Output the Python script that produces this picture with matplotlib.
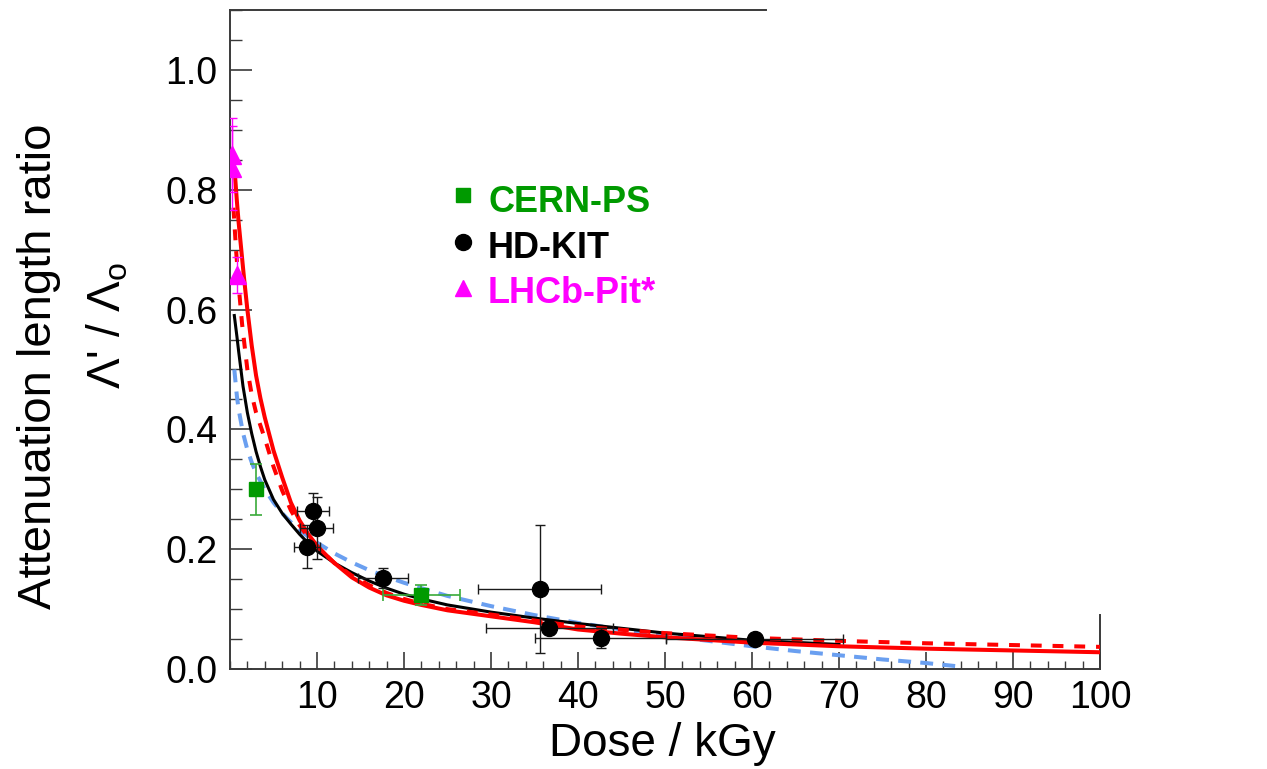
import matplotlib
matplotlib.use("Agg")
import matplotlib.pyplot as plt
from matplotlib.ticker import MultipleLocator, FixedLocator, FormatStrFormatter

plt.rcParams['font.family'] = ['Liberation Sans', 'DejaVu Sans']
plt.rcParams['mathtext.fontset'] = 'custom'
plt.rcParams['mathtext.rm'] = 'Liberation Sans'
plt.rcParams['mathtext.it'] = 'Liberation Sans:italic'
plt.rcParams['mathtext.bf'] = 'Liberation Sans:bold'

# ---- measured attenuation-length ratios ----
cern_dose = [3.0, 22.0]
cern_ratio = [0.300, 0.1235]
cern_dose_err = [0.0, 4.4]
cern_ratio_err = [0.043, 0.017]

kit_dose = [8.9, 9.5, 10.0, 17.6, 35.6, 36.7, 42.6, 60.3]
kit_ratio = [0.204, 0.263, 0.235, 0.152, 0.134, 0.069, 0.052, 0.050]
kit_dose_err = [1.5, 1.85, 1.9, 2.9, 7.1, 7.3, 7.5, 10.2]
kit_ratio_err = [0.036, 0.030, 0.052, 0.017, 0.107, 0.010, 0.017, 0.008]

pit_dose = [0.27, 0.27, 0.77]
pit_ratio = [0.858, 0.836, 0.658]
pit_ratio_err = [0.061, 0.070, 0.030]

# ---- fitted curves ----
fit_red_x = [0.55, 0.8, 1.0, 1.3, 1.6, 2.0, 2.5, 3.0, 3.5, 4.0, 5.0, 6.0, 7.0,
             8.0, 9.0, 10, 11, 12, 14, 16, 18, 20, 22, 25, 30, 35, 40, 45, 50,
             60, 70, 80, 90, 100]
fit_red_y = [0.830, 0.780, 0.745, 0.700, 0.655, 0.600, 0.540, 0.490, 0.452,
             0.420, 0.365, 0.320, 0.278, 0.248, 0.225, 0.206, 0.191, 0.177,
             0.153, 0.136, 0.123, 0.114, 0.107, 0.098, 0.088, 0.078, 0.066,
             0.059, 0.053, 0.044, 0.038, 0.034, 0.031, 0.028]

fit_red_dash_x = [0.4, 0.7, 1.0, 1.4, 2.0, 2.5, 3.0, 4.0, 5.0, 6.0, 7.0, 8.0,
                  9.0, 10, 12, 14, 16, 18, 20, 22, 25, 30, 35, 40, 50, 60, 70,
                  80, 90, 100]
fit_red_dash_y = [0.770, 0.700, 0.640, 0.575, 0.500, 0.458, 0.428, 0.385,
                  0.338, 0.298, 0.265, 0.240, 0.220, 0.204, 0.177, 0.156,
                  0.140, 0.127, 0.117, 0.109, 0.100, 0.091, 0.081, 0.071,
                  0.060, 0.052, 0.047, 0.043, 0.040, 0.037]

fit_black_x = [0.5, 0.8, 1.0, 1.5, 2.0, 2.5, 3.0, 3.5, 4.0, 5.0, 6.0, 7.0,
               8.0, 9.0, 10, 12, 14, 16, 18, 20, 22, 25, 30, 35, 40, 50, 60, 70]
fit_black_y = [0.590, 0.555, 0.530, 0.472, 0.428, 0.393, 0.363, 0.338, 0.316,
               0.283, 0.260, 0.242, 0.225, 0.210, 0.197, 0.177, 0.161, 0.147,
               0.135, 0.125, 0.117, 0.107, 0.095, 0.085, 0.076, 0.060, 0.048,
               0.041]

fit_blue_x = [0.5, 0.8, 1.0, 1.5, 2.0, 2.5, 3.0, 4.0, 5.0, 6.0, 7.0, 8.0, 9.0,
              10, 12, 14, 16, 18, 20, 22, 25, 30, 35, 40, 45, 50, 55, 60, 65,
              70, 75, 80, 84]
fit_blue_y = [0.500, 0.455, 0.433, 0.394, 0.366, 0.345, 0.327, 0.300, 0.278,
              0.260, 0.245, 0.232, 0.221, 0.211, 0.193, 0.178, 0.165, 0.154,
              0.144, 0.135, 0.122, 0.105, 0.090, 0.077, 0.066, 0.056, 0.047,
              0.038, 0.030, 0.023, 0.016, 0.010, 0.004]

x_major = [10, 20, 30, 40, 50, 60, 70, 80, 90, 100]
y_major = [0.0, 0.2, 0.4, 0.6, 0.8, 1.0]

green = '#009a00'
green_err = '#3aaa3a'
magenta = '#ff00ff'
red = '#ff0000'
blue = '#6a9ff0'
axis_col = '#3a3a3a'

fig = plt.figure(figsize=(12.67, 7.69), dpi=100)
ax = fig.add_axes([0.1815, 0.130, 0.6867, 0.857])

ax.plot(fit_blue_x, fit_blue_y, color=blue, lw=2.9, dashes=(3.2, 2.3), zorder=2)
ax.plot(fit_black_x, fit_black_y, color='black', lw=2.2, zorder=3)
ax.plot(fit_red_dash_x, fit_red_dash_y, color=red, lw=2.9, dashes=(2.7, 2.7), zorder=3)
ax.plot(fit_red_x, fit_red_y, color=red, lw=2.9, zorder=4)

ax.errorbar(kit_dose, kit_ratio, xerr=kit_dose_err, yerr=kit_ratio_err,
            fmt='o', color='black', ms=11.5, ecolor='#1a1a1a', elinewidth=1.0,
            capsize=3.5, capthick=1.0, zorder=5)
ax.errorbar(cern_dose, cern_ratio, xerr=cern_dose_err, yerr=cern_ratio_err,
            fmt='s', color=green, ms=10, ecolor=green_err, elinewidth=1.2,
            capsize=4, capthick=1.2, zorder=5)
ax.errorbar(pit_dose, pit_ratio, yerr=pit_ratio_err, fmt='^', color=magenta,
            ms=13, ecolor=magenta, elinewidth=1.0, capsize=3.5, capthick=1.0,
            zorder=6)

ax.set_xlim(0, 100)
ax.set_ylim(0, 1.1)

ax.xaxis.set_major_locator(FixedLocator(x_major))
ax.xaxis.set_minor_locator(MultipleLocator(2))
ax.yaxis.set_major_locator(FixedLocator(y_major))
ax.yaxis.set_minor_locator(MultipleLocator(0.05))
ax.yaxis.set_major_formatter(FormatStrFormatter('%.1f'))
ax.xaxis.set_major_formatter(FormatStrFormatter('%d'))

ax.xaxis.set_tick_params(which='major', direction='in', length=12.5, width=1.2,
                         color=axis_col, labelsize=27, pad=8)
ax.xaxis.set_tick_params(which='minor', direction='in', length=6, width=1.0,
                         color=axis_col)
ax.yaxis.set_tick_params(which='major', direction='in', length=16, width=1.2,
                         color=axis_col, labelsize=27, pad=9)
ax.yaxis.set_tick_params(which='minor', direction='in', length=8.5, width=1.0,
                         color=axis_col)

for side in ('left', 'bottom', 'top', 'right'):
    ax.spines[side].set_color(axis_col)
    ax.spines[side].set_linewidth(1.4)
ax.spines['top'].set_bounds(0, 61.6)
ax.spines['right'].set_bounds(0, 0.09)

# legend drawn by hand
leg_items = [('s', green, 10, 'CERN-PS', green),
             ('o', 'black', 11.5, 'HD-KIT', 'black'),
             ('^', magenta, 11, 'LHCb-Pit*', magenta)]
leg_marker_y = [0.7193, 0.648, 0.578]
leg_text_y = [0.708, 0.638, 0.570]
for (mk, mc, ms, label, tc), my, ty in zip(leg_items, leg_marker_y, leg_text_y):
    ax.plot([0.2678], [my], marker=mk, color=mc, ms=ms, ls='none',
            transform=ax.transAxes, clip_on=False, zorder=7)
    ax.text(0.2966, ty, label, color=tc, fontsize=26, fontweight='bold',
            ha='left', va='center', transform=ax.transAxes)

fig.text(0.5225, 0.033, 'Dose / kGy', fontsize=33, ha='center', va='center')
fig.text(0.031, 0.524, 'Attenuation length ratio', fontsize=34,
         rotation=90, ha='center', va='center')
fig.text(0.0852, 0.577, "Λ' / Λ$_\\mathrm{o}$", fontsize=33,
         rotation=90, ha='center', va='center')

fig.savefig('out.png', dpi=100)
